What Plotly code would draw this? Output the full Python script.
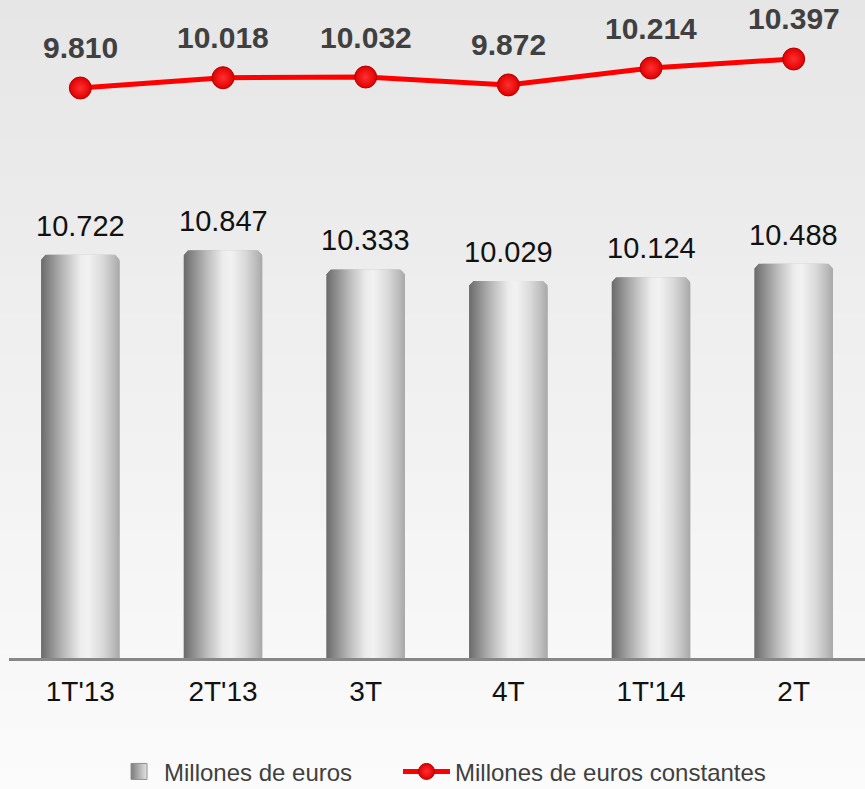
import plotly.graph_objects as go

categories = ["1T'13", "2T'13", "3T", "4T", "1T'14", "2T"]
euros = [10722, 10847, 10333, 10029, 10124, 10488]
euros_constantes = [9810, 10018, 10032, 9872, 10214, 10397]
bar_labels = ["10.722", "10.847", "10.333", "10.029", "10.124", "10.488"]
line_labels = ["9.810", "10.018", "10.032", "9.872", "10.214", "10.397"]

BAR_W = 0.55
cyl_scale = [
    [0.0, "#6a6a6a"], [0.12, "#8c8c8c"], [0.3, "#bdbdbd"], [0.5, "#ececec"],
    [0.6, "#f2f2f2"], [0.78, "#dadada"], [0.92, "#bcbcbc"], [1.0, "#a8a8a8"],
]
FONT = "Liberation Sans, Arial, sans-serif"

fig = go.Figure()

# background vertical gradient (bands)
n_bands = 40
top_c, bot_c = (0xe6, 0xe6, 0xe6), (0xfb, 0xfb, 0xfb)
y0, y1 = -0.2, 1.0
for k in range(n_bands):
    t = k / (n_bands - 1)
    c = tuple(round(top_c[j] + (bot_c[j] - top_c[j]) * t) for j in range(3))
    ya = y1 - (y1 - y0) * k / n_bands
    yb = y1 - (y1 - y0) * (k + 1) / n_bands
    fig.add_shape(type="rect", xref="paper", yref="paper", x0=-0.02, x1=1.02,
                  y0=yb - 0.002, y1=ya + 0.002, line_width=0,
                  fillcolor="rgb(%d,%d,%d)" % c, layer="below")

# base bars
fig.add_trace(go.Bar(
    x=list(range(len(categories))), y=euros, width=BAR_W,
    marker=dict(color="#b4b4b4", line=dict(width=0), cornerradius=8),
    name="Millones de euros", yaxis="y", showlegend=False,
))

# cylinder shading overlays
for i, v in enumerate(euros):
    xl, xr = i - BAR_W / 2, i + BAR_W / 2
    cap = v * 0.012
    fig.add_trace(go.Scatter(
        x=[xl, xl, xl + 0.03, xr - 0.03, xr, xr, xl],
        y=[0, v - cap, v, v, v - cap, 0, 0],
        mode="lines", fill="toself", line=dict(width=0),
        fillgradient=dict(type="horizontal", colorscale=cyl_scale),
        showlegend=False, hoverinfo="skip", yaxis="y",
    ))

# legend entry for the bars
fig.add_trace(go.Scatter(
    x=[None], y=[None], mode="markers", name="Millones de euros", legend="legend",
    marker=dict(symbol="square", size=16, color="#7a7a7a",
                line=dict(color="#909090", width=1),
                gradient=dict(type="horizontal", color="#e4e4e4")),
))

# line trace
fig.add_trace(go.Scatter(
    x=list(range(len(categories))), y=euros_constantes, yaxis="y2",
    mode="lines+markers", name="Millones de euros constantes", legend="legend2",
    line=dict(color="#ff0000", width=5),
    marker=dict(size=22, color="#e00000", line=dict(color="#b00000", width=1),
                gradient=dict(type="radial", color="#ff3030")),
))

annotations = []
for i, (v, lab) in enumerate(zip(euros, bar_labels)):
    annotations.append(dict(x=i, y=v, xref="x", yref="y", text=lab, showarrow=False,
                            yshift=29, font=dict(size=29, color="#111111", family=FONT)))
for i, (v, lab) in enumerate(zip(euros_constantes, line_labels)):
    annotations.append(dict(x=i, y=v, xref="x", yref="y2", text="<b>" + lab + "</b>",
                            showarrow=False, yshift=40,
                            font=dict(size=30, color="#404040", family=FONT)))

legend_common = dict(orientation="h", y=-0.173, yanchor="middle", xanchor="left",
                     font=dict(size=24, color="#404040"), bgcolor="rgba(0,0,0,0)")

fig.update_layout(
    width=865, height=789,
    margin=dict(l=9, r=0, t=0, b=131, autoexpand=False),
    paper_bgcolor="#fafafa", plot_bgcolor="rgba(0,0,0,0)",
    barmode="overlay",
    font=dict(family=FONT),
    xaxis=dict(range=[-0.5, 5.5], tickmode="array", tickvals=list(range(len(categories))),
               ticktext=categories, showgrid=False, zeroline=False,
               showline=True, linecolor="#888888", linewidth=3,
               ticks="outside", ticklen=6, tickcolor="rgba(0,0,0,0)",
               tickfont=dict(size=28, color="#111111")),
    yaxis=dict(range=[0, 17500], visible=False, showgrid=False),
    yaxis2=dict(range=[-1727, 11591], overlaying="y", visible=False, showgrid=False),
    annotations=annotations,
    legend=dict(x=(114 - 9) / 856, itemwidth=40, **legend_common),
    legend2=dict(x=(398 - 9) / 856, itemwidth=47, **legend_common),
    showlegend=True,
)

fig.write_html("out.html")
